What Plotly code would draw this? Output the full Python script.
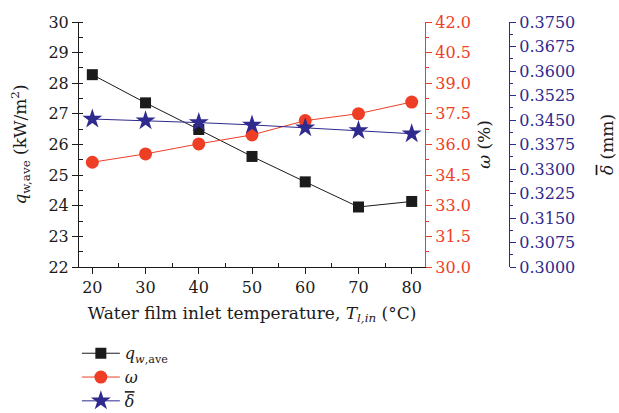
import plotly.graph_objects as go

# Water film inlet temperature (°C)
temperature = [20, 30, 40, 50, 60, 70, 80]
# Average wall heat flux q_w,ave (kW/m²)
q_w_ave = [28.28, 27.36, 26.49, 25.61, 24.78, 23.96, 24.14]
# Evaporation ratio ω (%)
omega = [35.13, 35.54, 36.03, 36.47, 37.17, 37.51, 38.08]
# Mean film thickness δ̄ (mm)
delta_mean = [0.3453, 0.3448, 0.3442, 0.3435, 0.3426, 0.3418, 0.3408]

BLACK = "#1b1b1b"
RED = "#ee3e26"
BLUE = "#2f2a8e"
FONT = "DejaVu Serif"
DELTA_BAR = "<span style='text-decoration:overline'><i>δ</i></span>"

fig = go.Figure()

fig.add_trace(go.Scatter(
    x=temperature, y=q_w_ave, mode="lines+markers",
    name="<i>q</i><sub><i>w</i>,ave</sub>",
    line=dict(color=BLACK, width=1),
    marker=dict(symbol="square", size=11, color=BLACK),
    xaxis="x", yaxis="y",
))
fig.add_trace(go.Scatter(
    x=temperature, y=omega, mode="lines+markers",
    name="<i>ω</i>",
    line=dict(color=RED, width=1),
    marker=dict(symbol="circle", size=13, color=RED),
    xaxis="x", yaxis="y2",
))
fig.add_trace(go.Scatter(
    x=temperature, y=delta_mean, mode="lines+markers",
    name=DELTA_BAR,
    line=dict(color=BLUE, width=1),
    marker=dict(symbol="star", size=15, color=BLUE),
    xaxis="x", yaxis="y3",
))

tick_font = dict(family=FONT, size=16)

fig.update_layout(
    width=619, height=413,
    margin=dict(l=79, r=110, t=22, b=146, autoexpand=False),
    paper_bgcolor="white", plot_bgcolor="white",
    font=dict(family=FONT, color=BLACK, size=16),
    showlegend=True,
    legend=dict(
        x=-0.005, y=-0.283, xanchor="left", yanchor="top",
        font=dict(family=FONT, size=16, color=BLACK),
        bgcolor="rgba(0,0,0,0)", tracegroupgap=0, itemwidth=38,
    ),
    xaxis=dict(
        domain=[0, 0.8047], range=[17.5, 82.5],
        tickvals=[20, 30, 40, 50, 60, 70, 80],
        ticks="outside", ticklen=6, tickwidth=1, tickcolor=BLACK,
        minor=dict(tickvals=[25, 35, 45, 55, 65, 75], ticks="inside", ticklen=4, tickcolor=BLACK),
        showline=True, linecolor=BLACK, linewidth=1,
        showgrid=False, zeroline=False,
        tickfont=tick_font,
        title=dict(
            text="Water film inlet temperature, <i>T</i><sub><i>l,in</i></sub> (°C)",
            font=dict(family=FONT, size=17), standoff=10,
        ),
    ),
    xaxis2=dict(
        overlaying="x", side="top", anchor="y", range=[17.5, 82.5],
        tickvals=[20, 30, 40, 50, 60, 70, 80],
        ticks="inside", ticklen=5, tickcolor=BLACK,
        minor=dict(tickvals=[25, 35, 45, 55, 65, 75], ticks="inside", ticklen=3, tickcolor=BLACK),
        showticklabels=False, showline=True, linecolor=BLACK, linewidth=1,
        showgrid=False, zeroline=False,
    ),
    yaxis=dict(
        range=[22, 30], tickvals=list(range(22, 31)),
        ticks="outside", ticklen=6, tickcolor=BLACK,
        minor=dict(dtick=0.5, ticks="inside", ticklen=4, tickcolor=BLACK),
        showline=True, linecolor=BLACK, linewidth=1,
        showgrid=False, zeroline=False,
        tickfont=tick_font,
        title=dict(text="<i>q</i><sub>w,ave</sub> (kW/m<sup>2</sup>)",
                   font=dict(family=FONT, size=17), standoff=17),
    ),
    yaxis2=dict(
        overlaying="y", side="right", anchor="x",
        range=[30, 42], tickvals=[30 + 1.5 * i for i in range(9)],
        tickformat=".1f",
        ticks="outside", ticklen=6, tickcolor=RED,
        minor=dict(dtick=0.75, ticks="outside", ticklen=3, tickcolor=RED),
        showline=True, linecolor=RED, linewidth=1.2,
        showgrid=False, zeroline=False,
        tickfont=dict(family=FONT, size=16, color=RED),
        title=dict(text="<i>ω</i> (%)", font=dict(family=FONT, size=17, color=BLACK), standoff=8),
    ),
    yaxis3=dict(
        overlaying="y", side="right", anchor="free", position=1.0,
        range=[0.3, 0.375], tickvals=[0.3 + 0.0075 * i for i in range(11)],
        tickformat=".4f",
        ticks="outside", ticklen=6, tickcolor=BLUE,
        minor=dict(dtick=0.00375, ticks="outside", ticklen=3, tickcolor=BLUE),
        showline=True, linecolor=BLUE, linewidth=1.2,
        showgrid=False, zeroline=False,
        tickfont=dict(family=FONT, size=16, color=BLUE),
        title=dict(text=DELTA_BAR + " (mm)", font=dict(family=FONT, size=17, color=BLACK), standoff=26),
    ),
)

fig.write_html("out.html")
